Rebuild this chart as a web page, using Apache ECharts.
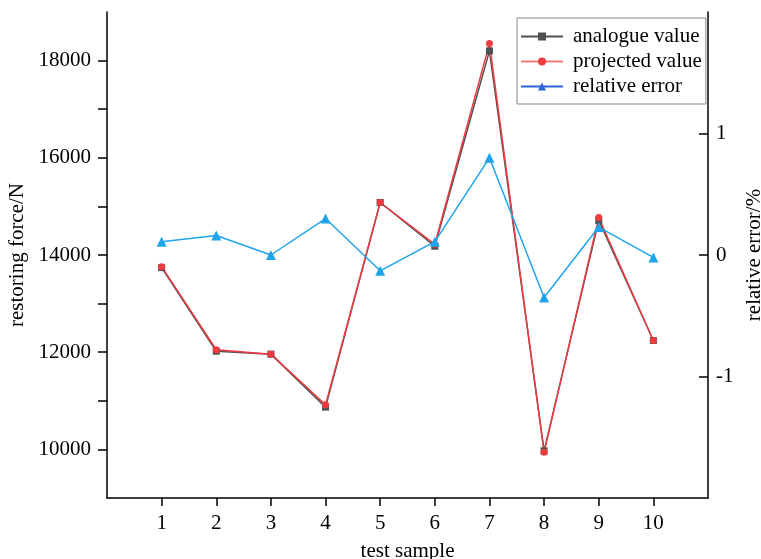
<!DOCTYPE html>
<html><head><meta charset="utf-8">
<script src="https://cdn.jsdelivr.net/npm/echarts@6/dist/echarts.min.js"></script>
<style>html,body{margin:0;padding:0;background:#fff}#c{width:761px;height:559px}</style>
</head><body><div id="c"></div>
<script>
var samples = [1,2,3,4,5,6,7,8,9,10];
var analogueValue = [13740,12020,11960,10870,15080,14180,18200,9970,14710,12240];
var projectedValue = [13760,12050,11960,10920,15080,14220,18350,9940,14770,12240];
var relativeError = [0.11,0.16,0.00,0.30,-0.13,0.11,0.80,-0.35,0.23,-0.02];
var leftTickValues = [10000,11000,12000,13000,14000,15000,16000,17000,18000];
var leftLabelValues = [10000,12000,14000,16000,18000];
var rightTickValues = [-1,0,1];
var xTickValues = [1,2,3,4,5,6,7,8,9,10];

var font = 'Liberation Serif';
var fs = 21;
function pairs(xs, ys){ return xs.map(function(x,i){return [x, ys[i]];}); }
function plain(v){ return String(v); }

var chart = echarts.init(document.getElementById('c'));
chart.setOption({
  animation:false,
  textStyle:{fontFamily:font, color:'#000'},
  grid:{left:107,right:53,top:12,bottom:61, containLabel:false, outerBoundsMode:'none'},
  legend:{
    orient:'vertical', left:517, top:18, padding:[8,4,7,3],
    borderColor:'#888', borderWidth:1, itemWidth:42, itemHeight:10, itemGap:4,
    textStyle:{fontFamily:font, fontSize:fs, color:'#000', padding:[0,0,0,5]},
    data:[
      {name:'analogue value', lineStyle:{color:'#505050'}, itemStyle:{color:'#505050'}},
      {name:'projected value', lineStyle:{color:'#f07c7e'}, itemStyle:{color:'#ee3b3f'}},
      {name:'relative error', lineStyle:{color:'#2a64d8'}, itemStyle:{color:'#2a64d8'}}
    ]
  },
  xAxis:{
    type:'value', min:0, max:11,
    name:'test sample', nameLocation:'middle', nameGap:43,
    nameTextStyle:{fontFamily:font, fontSize:fs, color:'#000'},
    axisLine:{show:true, onZero:false, lineStyle:{color:'#000', width:1.5}},
    axisTick:{show:true, customValues:xTickValues, length:8, lineStyle:{color:'#000', width:1.5}},
    axisLabel:{customValues:xTickValues, formatter:plain, fontFamily:font, fontSize:fs, color:'#000', margin:15},
    splitLine:{show:false}
  },
  yAxis:[{
    type:'value', min:9000, max:19000, position:'left',
    name:'restoring force/N', nameLocation:'middle', nameGap:71, nameRotate:90,
    nameTextStyle:{fontFamily:font, fontSize:fs, color:'#000'},
    axisLine:{show:true, onZero:false, lineStyle:{color:'#000', width:1.5}},
    axisTick:{show:true, customValues:leftTickValues, length:9, lineStyle:{color:'#000', width:1.5}},
    axisLabel:{customValues:leftLabelValues, formatter:plain, fontFamily:font, fontSize:fs, color:'#000', margin:16},
    splitLine:{show:false}
  },{
    type:'value', min:-2, max:2, position:'right',
    name:'relative error/%', nameLocation:'middle', nameGap:31, nameRotate:90,
    nameTextStyle:{fontFamily:font, fontSize:fs, color:'#000'},
    axisLine:{show:true, onZero:false, lineStyle:{color:'#000', width:1.5}},
    axisTick:{show:true, inside:true, customValues:rightTickValues, length:9, lineStyle:{color:'#000', width:1.5}},
    axisLabel:{customValues:rightTickValues, formatter:plain, fontFamily:font, fontSize:fs, color:'#000', margin:8},
    splitLine:{show:false}
  }],
  series:[{
    name:'analogue value', type:'line', yAxisIndex:0,
    data:pairs(samples, analogueValue),
    symbol:'rect', symbolSize:7,
    lineStyle:{color:'#505050', width:1.5},
    itemStyle:{color:'#505050'}
  },{
    name:'projected value', type:'line', yAxisIndex:0,
    data:pairs(samples, projectedValue),
    symbol:'circle', symbolSize:7,
    lineStyle:{color:'#ee3b3f', width:1.5},
    itemStyle:{color:'#ee3b3f'}
  },{
    name:'relative error', type:'line', yAxisIndex:1,
    data:pairs(samples, relativeError),
    symbol:'triangle', symbolSize:10,
    lineStyle:{color:'#1ea4ea', width:1.5},
    itemStyle:{color:'#1ea4ea'}
  }]
});
</script></body></html>
